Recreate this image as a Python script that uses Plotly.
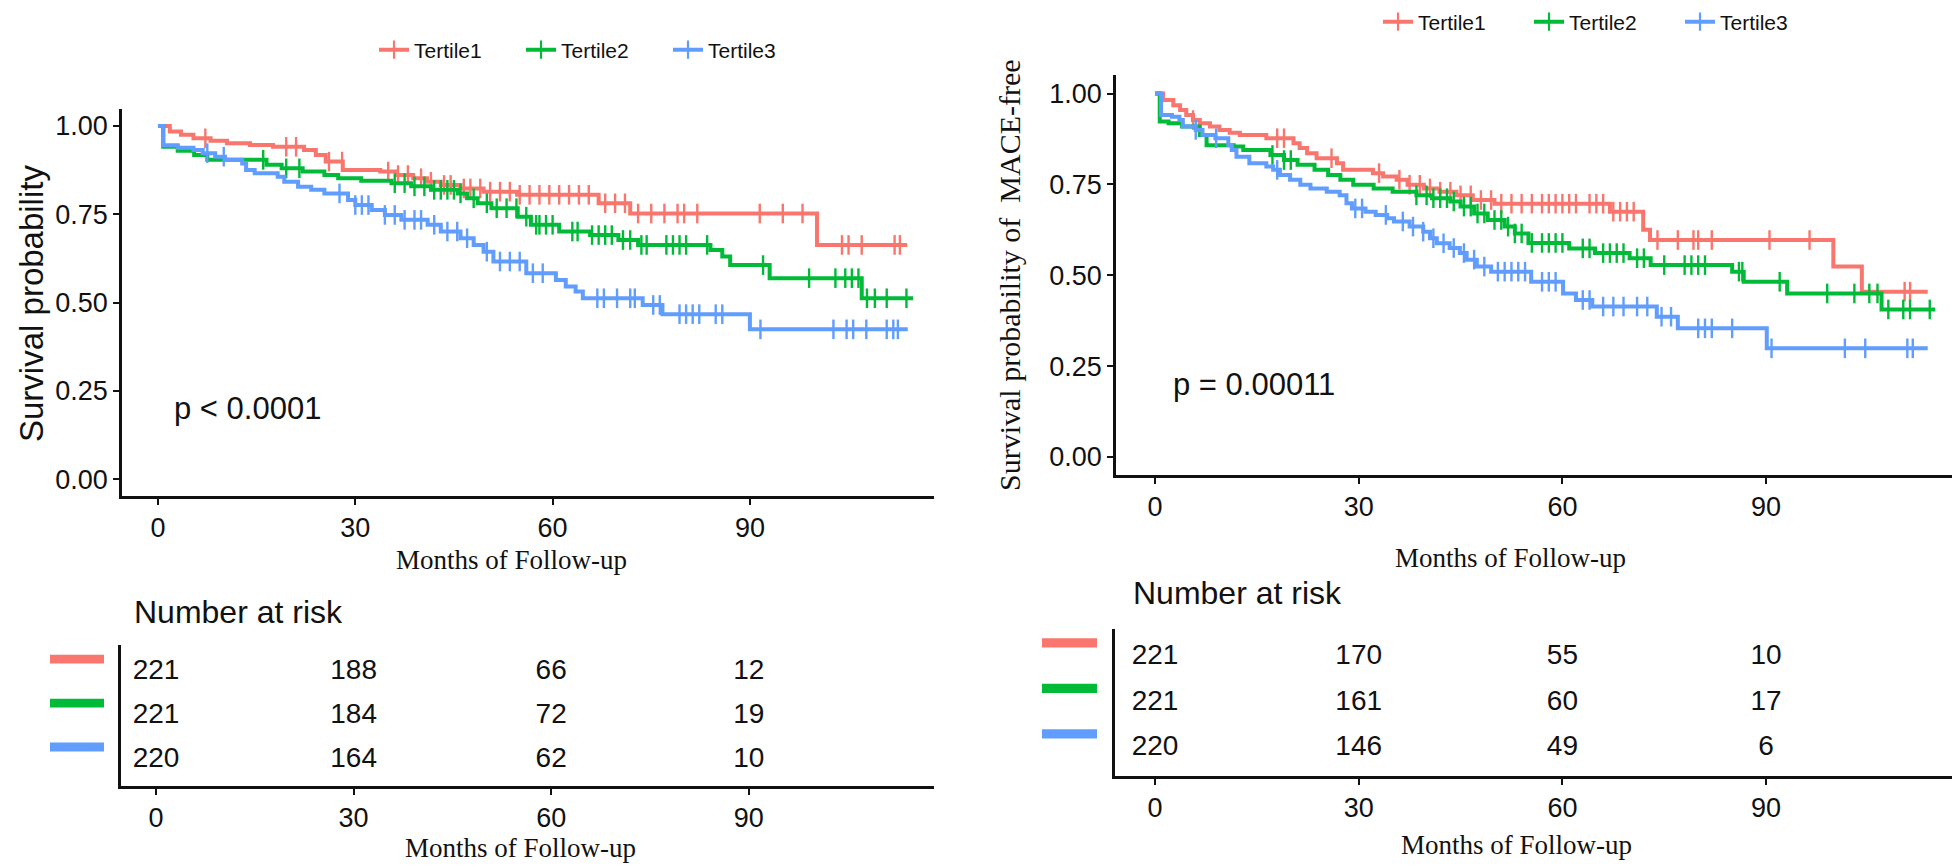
import numpy as np
import plotly.graph_objects as go

# page body has an 8px default margin: the figure is drawn 8px in from the window's top-left
OFF = 8
W, H = 1952, 859
SANS = "Arial, Liberation Sans, sans-serif"
SERIF = "Times New Roman, Liberation Serif, serif"
INK = "#111111"

GROUPS = ["Tertile1", "Tertile2", "Tertile3"]
COLORS = ["#F8766D", "#00BA38", "#619CFF"]
X_TICKS = [0, 30, 60, 90]
Y_TICKS = [0, 0.25, 0.5, 0.75, 1.0]
Y_TICK_TEXT = ["0.00", "0.25", "0.50", "0.75", "1.00"]
RISK_TIMES = [0, 30, 60, 90]

# ---------------- Left panel: survival ----------------
L1_time = [0, 1.8, 3.5, 5.4, 8, 10.5, 14, 17.5, 22.2, 24, 25.5, 28.1, 33.8, 36.3, 38.8, 40.9, 43, 46,
           49.5, 54.6, 67, 71.8, 100.2]
L1_surv = [1.0, 0.984, 0.975, 0.965, 0.958, 0.951, 0.946, 0.941, 0.932, 0.918, 0.899, 0.875, 0.871, 0.861,
           0.852, 0.842, 0.833, 0.823, 0.814, 0.805, 0.781, 0.752, 0.663]
L1_end = 113.9
L1_cens = [7.2, 19.5, 21, 26, 28, 35, 36.5, 38, 40, 41.5, 43.5, 44.5, 46.5, 47.5, 49, 50.5, 52, 53.5, 55,
           56.5, 58, 59.5, 61, 62.5, 64, 65.5, 68, 69.5, 71, 73, 75, 77, 79, 80, 82, 91.5, 95, 98, 104, 105,
           107, 112, 112.8]

L2_time = [0, 0.8, 3, 5.5, 7.5, 16.5, 18.8, 22, 25.3, 27.4, 30.9, 35.5, 38.5, 41.5, 45.6, 47, 48.6, 50.7,
           54.7, 56.7, 61, 65.7, 70, 73, 84, 85.8, 87, 93, 107]
L2_surv = [1.0, 0.941, 0.93, 0.918, 0.904, 0.89, 0.880, 0.871, 0.861, 0.852, 0.845, 0.838, 0.829, 0.819,
           0.809, 0.795, 0.781, 0.767, 0.743, 0.720, 0.701, 0.691, 0.677, 0.663, 0.649, 0.630, 0.606, 0.569,
           0.512]
L2_end = 114.8
L2_cens = [16, 19.5, 21.5, 36, 37.5, 39, 40.5, 42, 43, 44, 45, 46, 48, 50, 51.5, 53, 54.5, 56, 57.5, 58, 59,
           60, 63, 63.8, 66, 67, 68, 69, 70.7, 71.8, 73.5, 74.3, 77.3, 78.3, 79.3, 80.3, 83.5, 92, 99, 103,
           104.5, 105.5, 106.5, 107.8, 109, 110.8, 113.8]

L3_time = [0, 0.8, 3, 5.4, 6.8, 8.7, 10.2, 12.8, 13.4, 14.7, 18.2, 19.2, 21.3, 23.3, 25.3, 28.9, 30, 32.5,
           34.5, 37, 41, 43, 46, 48, 49.5, 51, 56, 60.5, 62, 63.5, 64.6, 73.7, 76.7, 90]
L3_surv = [1.0, 0.945, 0.938, 0.932, 0.923, 0.913, 0.904, 0.894, 0.875, 0.866, 0.856, 0.842, 0.828, 0.819,
           0.809, 0.79, 0.776, 0.762, 0.748, 0.734, 0.720, 0.701, 0.682, 0.663, 0.644, 0.616, 0.583, 0.564,
           0.545, 0.531, 0.512, 0.493, 0.467, 0.424]
L3_end = 114.0
L3_cens = [7.5, 10, 27.6, 30, 31, 32, 34.5, 36, 37.5, 39, 40, 42, 44, 45.5, 47, 50, 52, 53.5, 55, 57, 58.5,
           66.8, 67.8, 69.8, 71.8, 72.5, 75.3, 76.3, 79.3, 80.3, 81.3, 82.3, 84.8, 85.8, 91.6, 102.7, 104.7,
           105.7, 107.7, 110.8, 111.8, 112.5]

# ---------------- Right panel: MACE-free ----------------
R1_time = [0, 1.2, 2.7, 3.7, 4.6, 5.6, 6.6, 8.1, 9.5, 11, 12.5, 16.4, 20.4, 21.3, 22.4, 23.8, 26.8, 27.7,
           32.1, 33.6, 35.6, 37.2, 39.6, 41.9, 44.4, 46.8, 50, 67, 71.9, 72.9, 99.9, 104.1]
R1_surv = [1.0, 0.982, 0.968, 0.955, 0.941, 0.927, 0.918, 0.909, 0.90, 0.892, 0.886, 0.877, 0.863, 0.85,
           0.836, 0.822, 0.808, 0.79, 0.781, 0.772, 0.763, 0.749, 0.739, 0.73, 0.72, 0.707, 0.697, 0.675,
           0.625, 0.597, 0.524, 0.455]
R1_end = 113.8
R1_cens = [5.6, 18, 19, 26, 33, 36, 37.5, 39, 40.5, 42, 43.5, 45, 46.5, 48, 49.5, 51, 52.5, 54, 55.5, 57, 58,
           59, 60, 61, 62, 64, 65, 66, 67.5, 68.5, 69.5, 70.5, 74, 77, 79.3, 80, 82, 90.5, 96.4, 110.4, 111.2]

R2_time = [0, 0.7, 2, 4, 6.6, 7.6, 11.6, 13, 17, 19, 21, 23.5, 25.5, 27.3, 29.2, 32.2, 35, 38.5, 40.8, 43.5,
           45, 47, 49, 51.5, 53, 55, 61, 64.8, 69.9, 73, 85, 86.7, 93.1, 107]
R2_surv = [1.0, 0.923, 0.918, 0.909, 0.886, 0.858, 0.854, 0.845, 0.831, 0.817, 0.804, 0.79, 0.776, 0.763,
           0.749, 0.739, 0.73, 0.72, 0.712, 0.703, 0.689, 0.67, 0.652, 0.634, 0.615, 0.589, 0.574, 0.561,
           0.547, 0.528, 0.51, 0.482, 0.45, 0.406]
R2_end = 114.9
R2_cens = [17.3, 19, 20, 38.5, 40, 41, 42, 43, 44, 45.5, 46.5, 47.5, 48.5, 50, 51, 52, 53, 54, 55.5, 57, 58,
           59, 60, 63, 64, 66, 67, 68, 69, 71, 72, 75, 78, 79, 80, 81, 86, 86.5, 92, 99, 103, 105.2, 106.4,
           108, 110.2, 111.2, 114.1]

R3_time = [0, 0.9, 2.5, 3.6, 4.1, 6, 7, 8.9, 10.8, 11.3, 12, 13.9, 16.4, 17.4, 18.4, 19.9, 21.4, 22.9, 25.3,
           27.2, 28.2, 29, 31, 32.5, 34.2, 35.2, 37.5, 39.5, 40.5, 41.5, 43.4, 44.9, 45.9, 47.4, 49.5, 55.4,
           60.1, 62, 64.4, 73.9, 77, 90.1]
R3_surv = [1.0, 0.941, 0.936, 0.927, 0.909, 0.90, 0.886, 0.877, 0.858, 0.845, 0.826, 0.808, 0.799, 0.79,
           0.776, 0.763, 0.749, 0.739, 0.73, 0.72, 0.698, 0.684, 0.675, 0.666, 0.657, 0.648, 0.634, 0.62,
           0.602, 0.588, 0.575, 0.561, 0.543, 0.524, 0.51, 0.482, 0.45, 0.432, 0.414, 0.386, 0.354, 0.299]
R3_end = 113.8
R3_cens = [6, 9, 18, 29.5, 30.5, 34, 36.5, 38, 39.5, 41, 42.5, 44, 45.5, 47, 48.5, 50.5, 51.5, 52.5, 53.5,
           54.5, 57, 58, 59, 63, 64, 66, 67.5, 69, 71, 72.5, 74.6, 76, 80, 81, 82, 85, 90.8, 101.6, 104.6,
           110.8, 111.6]

# ---------------- Numbers at risk ----------------
RISK_L_T1 = [221, 188, 66, 12]
RISK_L_T2 = [221, 184, 72, 19]
RISK_L_T3 = [220, 164, 62, 10]
RISK_R_T1 = [221, 170, 55, 10]
RISK_R_T2 = [221, 161, 60, 17]
RISK_R_T3 = [220, 146, 49, 6]

P_LEFT = "p < 0.0001"
P_RIGHT = "p = 0.00011"
Y_TITLE_LEFT = "Survival probability"
Y_TITLE_RIGHT = "Survival probability of\u00a0 MACE-free"
X_TITLE = "Months of Follow-up"
RISK_TITLE = "Number at risk"


def fx(p):
    return (p - OFF) / W


def fy(p):
    return 1 - (p - OFF) / H


def censor_y(times, surv, cens):
    idx = np.searchsorted(np.array(times), np.array(cens), side="right") - 1
    return [surv[i] for i in idx]


fig = go.Figure()

panels = [
    ("x", "y", [(L1_time, L1_surv, L1_end, L1_cens), (L2_time, L2_surv, L2_end, L2_cens),
                (L3_time, L3_surv, L3_end, L3_cens)], "legend"),
    ("x2", "y2", [(R1_time, R1_surv, R1_end, R1_cens), (R2_time, R2_surv, R2_end, R2_cens),
                  (R3_time, R3_surv, R3_end, R3_cens)], "legend2"),
]

for xa, ya, curves, leg in panels:
    for g, (t, s, end, cens) in enumerate(curves):
        col = COLORS[g]
        fig.add_trace(go.Scatter(
            x=list(t) + [end], y=list(s) + [s[-1]], mode="lines", line=dict(color=col, width=4, shape="hv"),
            xaxis=xa, yaxis=ya, showlegend=False, hoverinfo="skip"))
        fig.add_trace(go.Scatter(
            x=cens, y=censor_y(t, s, cens), mode="markers",
            marker=dict(symbol="line-ns-open", size=14, color=col, line=dict(color=col, width=2.4)),
            xaxis=xa, yaxis=ya, showlegend=False, hoverinfo="skip"))
        # legend entry (line with cross)
        fig.add_trace(go.Scatter(
            x=[None], y=[None], mode="lines+markers", name=GROUPS[g],
            line=dict(color=col, width=4),
            marker=dict(symbol="line-ns-open", size=13, color=col, line=dict(color=col, width=2.2)),
            xaxis=xa, yaxis=ya, legend=leg, showlegend=True))

# risk tables
risk_panels = [("x3", "y3", [RISK_L_T1, RISK_L_T2, RISK_L_T3]),
               ("x4", "y4", [RISK_R_T1, RISK_R_T2, RISK_R_T3])]
for xa, ya, rows in risk_panels:
    for g, vals in enumerate(rows):
        fig.add_trace(go.Scatter(
            x=RISK_TIMES, y=[3 - g] * len(vals), mode="text", text=[str(v) for v in vals],
            textposition="middle center", textfont=dict(family=SANS, size=28, color=INK),
            xaxis=xa, yaxis=ya, showlegend=False, hoverinfo="skip"))

axis_common = dict(showline=True, linecolor=INK, linewidth=2.5, showgrid=False, zeroline=False,
                   ticks="outside", ticklen=6, tickwidth=2, tickcolor=INK,
                   tickfont=dict(family=SANS, size=27, color=INK))

layout = dict(
    width=W, height=H, margin=dict(l=0, r=0, t=0, b=0, autoexpand=False),
    paper_bgcolor="white", plot_bgcolor="white",
    xaxis=dict(domain=[fx(122), fx(934)], range=[-5.47, 117.99], tickvals=X_TICKS, anchor="y", **axis_common),
    yaxis=dict(domain=[fy(496), fy(109)], range=[-0.048, 1.048], tickvals=Y_TICKS, ticktext=Y_TICK_TEXT,
               anchor="x", **axis_common),
    xaxis2=dict(domain=[fx(1116), fx(1958)], range=[-5.74, 118.26], tickvals=X_TICKS, anchor="y2",
                **axis_common),
    yaxis2=dict(domain=[fy(475), fy(75)], range=[-0.0495, 1.051], tickvals=Y_TICKS, ticktext=Y_TICK_TEXT,
                anchor="x2", **axis_common),
    xaxis3=dict(domain=[fx(121), fx(934)], range=[-5.32, 118.13], tickvals=X_TICKS, anchor="y3",
                **axis_common),
    yaxis3=dict(domain=[fy(786), fy(645)], range=[0.409, 3.614], showline=True, linecolor=INK, linewidth=2.5,
                showgrid=False, zeroline=False, showticklabels=False, ticks="", anchor="x3"),
    xaxis4=dict(domain=[fx(1115), fx(1958)], range=[-5.89, 118.26], tickvals=X_TICKS, anchor="y4",
                **axis_common),
    yaxis4=dict(domain=[fy(776), fy(629)], range=[0.385, 3.615], showline=True, linecolor=INK, linewidth=2.5,
                showgrid=False, zeroline=False, showticklabels=False, ticks="", anchor="x4"),
    legend=dict(orientation="h", x=fx(374), y=fy(50), xanchor="left", yanchor="middle",
                font=dict(family=SANS, size=21, color=INK), entrywidth=102, entrywidthmode="pixels",
                bgcolor="rgba(0,0,0,0)", traceorder="normal"),
    legend2=dict(orientation="h", x=fx(1378), y=fy(22), xanchor="left", yanchor="middle",
                 font=dict(family=SANS, size=21, color=INK), entrywidth=106, entrywidthmode="pixels",
                 bgcolor="rgba(0,0,0,0)", traceorder="normal"),
)
fig.update_layout(**layout)

ann = []
ann.append(dict(text=Y_TITLE_LEFT, x=fx(31), y=fy(304), xref="paper", yref="paper", textangle=-90,
                showarrow=False, font=dict(family=SANS, size=33, color=INK), xanchor="center", yanchor="middle"))
ann.append(dict(text=Y_TITLE_RIGHT, x=fx(1010), y=fy(275), xref="paper", yref="paper", textangle=-90,
                showarrow=False, font=dict(family=SERIF, size=30, color=INK), xanchor="center",
                yanchor="middle"))
for cx, cy in [(511, 560), (1510, 558), (520, 848), (1516, 845)]:
    ann.append(dict(text=X_TITLE, x=fx(cx), y=fy(cy), xref="paper", yref="paper", showarrow=False,
                    font=dict(family=SERIF, size=27, color=INK), xanchor="center", yanchor="middle"))
ann.append(dict(text=RISK_TITLE, x=fx(132), y=fy(612), xref="paper", yref="paper", showarrow=False,
                font=dict(family=SANS, size=32, color=INK), xanchor="left", yanchor="middle"))
ann.append(dict(text=RISK_TITLE, x=fx(1131), y=fy(593), xref="paper", yref="paper", showarrow=False,
                font=dict(family=SANS, size=32, color=INK), xanchor="left", yanchor="middle"))
ann.append(dict(text=P_LEFT, x=2.1, y=0.2, xref="x", yref="y", showarrow=False,
                font=dict(family=SANS, size=31, color=INK), xanchor="left", yanchor="middle"))
ann.append(dict(text=P_RIGHT, x=2.36, y=0.2, xref="x2", yref="y2", showarrow=False,
                font=dict(family=SANS, size=31, color=INK), xanchor="left", yanchor="middle"))
fig.update_layout(annotations=ann)

# colour keys of the risk-table rows
shapes = []
for g in range(3):
    shapes.append(dict(type="rect", xref="paper", yref="y3", x0=fx(50), x1=fx(104),
                       y0=3 - g + 0.195, y1=3 - g + 0.395, fillcolor=COLORS[g], line=dict(width=0)))
    shapes.append(dict(type="rect", xref="paper", yref="y4", x0=fx(1042), x1=fx(1097),
                       y0=3 - g + 0.21, y1=3 - g + 0.41, fillcolor=COLORS[g], line=dict(width=0)))
fig.update_layout(shapes=shapes)

fig.write_html("out.html")
